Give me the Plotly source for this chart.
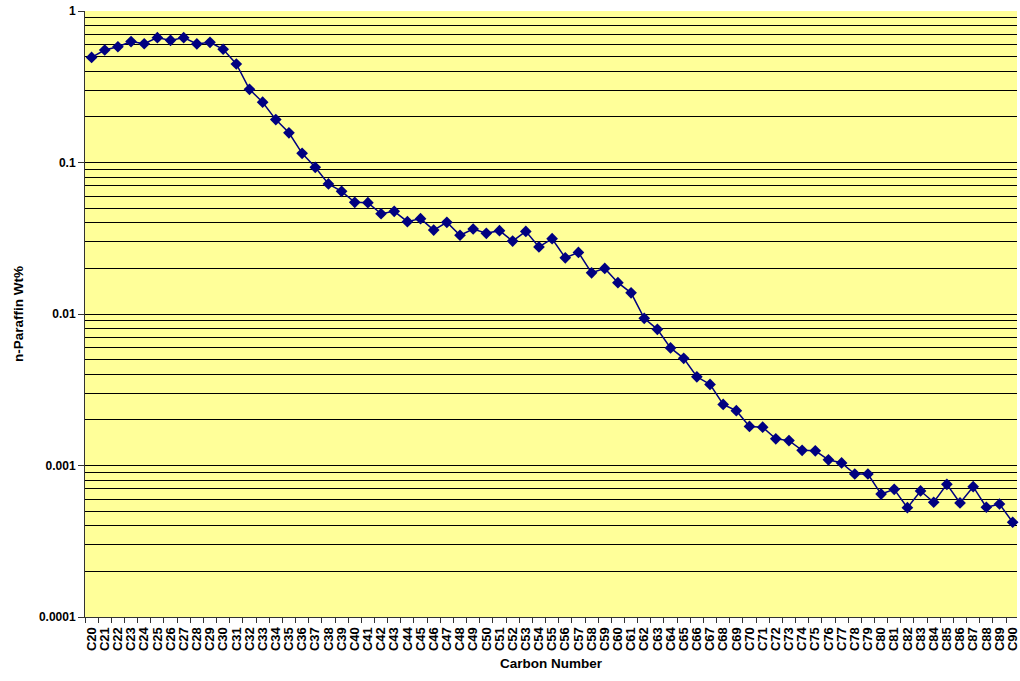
import plotly.graph_objects as go

# n-paraffin distribution by carbon number
carbon_numbers = [f"C{n}" for n in range(20, 91)]

wt_percent = [
    0.494, 0.553, 0.581, 0.628, 0.608, 0.667, 0.640, 0.667, 0.606, 0.621,   # C20-C29
    0.559, 0.447, 0.304, 0.250, 0.192, 0.157, 0.115, 0.0929, 0.0722, 0.0645,  # C30-C39
    0.0546, 0.0543, 0.0459, 0.0476, 0.0407, 0.0426, 0.0358, 0.0403, 0.0331, 0.0364,  # C40-C49
    0.0341, 0.0355, 0.0303, 0.0351, 0.0277, 0.0314, 0.0235, 0.0255, 0.0187, 0.0200,  # C50-C59
    0.0161, 0.0138, 0.00936, 0.00792, 0.00597, 0.00510, 0.00385, 0.00343, 0.00253, 0.00230,  # C60-C69
    0.00181, 0.00179, 0.00150, 0.00146, 0.00126, 0.00125, 0.00109, 0.00104, 0.000879, 0.000879,  # C70-C79
    0.000648, 0.000696, 0.000527, 0.000679, 0.000572, 0.000751, 0.000566, 0.000725, 0.000530, 0.000557,  # C80-C89
    0.000422,  # C90
]

y_major = [0.0001, 0.001, 0.01, 0.1, 1]
y_major_labels = ["0.0001", "0.001", "0.01", "0.1", "1"]
y_minor = [m * d for d in [0.0001, 0.001, 0.01, 0.1] for m in range(2, 10)]

FONT = "Liberation Sans, Arial, sans-serif"
NARROW = "Liberation Sans Narrow, Arial Narrow, Liberation Sans, sans-serif"
NAVY = "#000080"

fig = go.Figure()
fig.add_trace(go.Scatter(
    x=carbon_numbers,
    y=wt_percent,
    mode="lines+markers",
    line=dict(color=NAVY, width=1.5),
    marker=dict(symbol="diamond", size=9, color=NAVY),
    cliponaxis=False,
    showlegend=False,
))

fig.update_layout(
    width=1020,
    height=681,
    margin=dict(l=85, r=0, t=11, b=64),
    paper_bgcolor="white",
    plot_bgcolor="#FFFF99",
    font=dict(family=FONT, color="black"),
    xaxis=dict(
        type="category",
        range=[-0.5, 70.33],
        tickmode="array",
        tickvals=carbon_numbers,
        ticktext=carbon_numbers,
        tickson="boundaries",
        ticks="outside",
        ticklen=5,
        tickcolor="#333333",
        tickangle=-90,
        ticklabelstandoff=4,
        tickfont=dict(family=NARROW, size=13, color="black", weight="bold"),
        showgrid=False,
        showline=True,
        linecolor="#333333",
        linewidth=1,
        title=dict(text="<b>Carbon Number</b>", font=dict(family=FONT, size=13.5), standoff=8),
    ),
    yaxis=dict(
        type="log",
        range=[-4, 0],
        tickmode="array",
        tickvals=y_major,
        ticktext=y_major_labels,
        ticks="outside",
        ticklen=6,
        tickcolor="#333333",
        tickfont=dict(family=FONT, size=12, color="black", weight="bold"),
        showgrid=True,
        gridcolor="black",
        gridwidth=1,
        minor=dict(tickmode="array", tickvals=y_minor, showgrid=True,
                   gridcolor="black", gridwidth=1, ticks=""),
        showline=True,
        linecolor="#333333",
        linewidth=1,
        zeroline=False,
        title=dict(text="<b>n-Paraffin Wt%</b>", font=dict(family=FONT, size=13.5), standoff=12),
    ),
)

fig.write_html("out.html")
